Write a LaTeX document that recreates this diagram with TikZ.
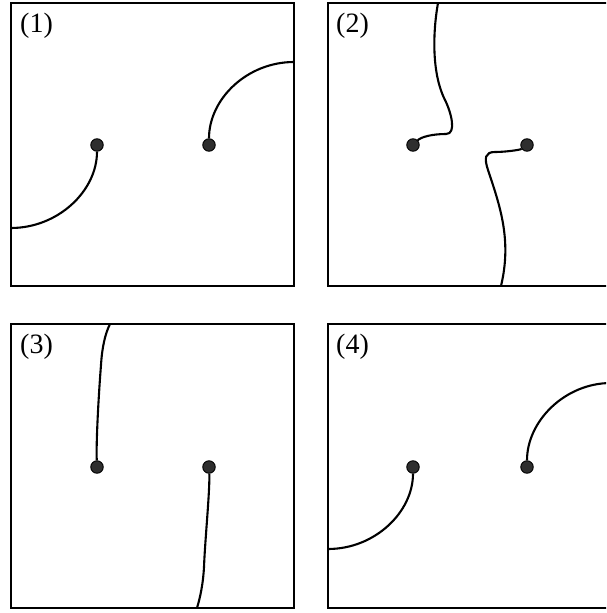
\documentclass[tikz,border=0pt]{standalone}
\usepackage{fontspec}
\setmainfont{Liberation Serif}
\begin{document}
\begin{tikzpicture}[x=1pt,y=-1pt,
  frame/.style={line width=2.2pt},
  curve/.style={line width=2.1pt},
  dot/.style={circle,draw=black,line width=0.9pt,fill=black!82,minimum size=12.5pt,inner sep=0pt},
  plabel/.style={anchor=base west,inner sep=0pt,font=\fontsize{28}{28}\selectfont}]
\useasboundingbox (0,0) rectangle (606,613);
\clip (0,0) rectangle (606,613);
% frames
\draw[frame] (11,3) rectangle (294,286);
\draw[frame] (328,3) rectangle (611,286);
\draw[frame] (11,324) rectangle (294,608);
\draw[frame] (328,324) rectangle (611,608);
% labels
\node[plabel] (l1) at (20,32) {(1)};
\node[plabel] (l2) at (336,32) {(2)};
\node[plabel] (l3) at (20,353) {(3)};
\node[plabel] (l4) at (336,353) {(4)};
% dots
\node[dot] (d1a) at (97,145) {};
\node[dot] (d1b) at (209,145) {};
\node[dot] (d2a) at (413,145) {};
\node[dot] (d2b) at (527,145) {};
\node[dot] (d3a) at (97,467) {};
\node[dot] (d3b) at (209,467) {};
\node[dot] (d4a) at (413,467) {};
\node[dot] (d4b) at (527,467) {};
% free ends
\coordinate (e1a) at (11,228);
\coordinate (e1b) at (294,62);
\coordinate (e2a) at (438,3);
\coordinate (e2b) at (501,286);
\coordinate (e3a) at (110,324);
\coordinate (e3b) at (197,608);
\coordinate (e4a) at (328,549);
\coordinate (e4b) at (611,383);
% panel 1
\draw[curve] (d1a) .. controls (97,191) and (58,228) .. (e1a);
\draw[curve] (d1b) .. controls (209,99) and (247,62) .. (e1b);
% panel 2
\draw[curve] (e2a) .. controls (434,25) and (430,70) .. (445,100)
  .. controls (451,112) and (457,134) .. (446,134)
  .. controls (432,134) and (421,137) .. (d2a);
\draw[curve] (d2b) .. controls (520,150) and (505,152) .. (495,152)
  .. controls (485,152) and (484,158) .. (488,170)
  .. controls (500,206) and (512,240) .. (e2b);
% panel 3
\draw[curve] (d3a) .. controls (96,440) and (99,390) .. (101,365)
  .. controls (102,348) and (105,334) .. (e3a);
\draw[curve] (d3b) .. controls (210,490) and (205,540) .. (204,567)
  .. controls (203,585) and (200,598) .. (e3b);
% panel 4
\draw[curve] (d4a) .. controls (413,512) and (375,549) .. (e4a);
\draw[curve] (d4b) .. controls (527,421) and (565,383) .. (e4b);
\end{tikzpicture}
\end{document}
